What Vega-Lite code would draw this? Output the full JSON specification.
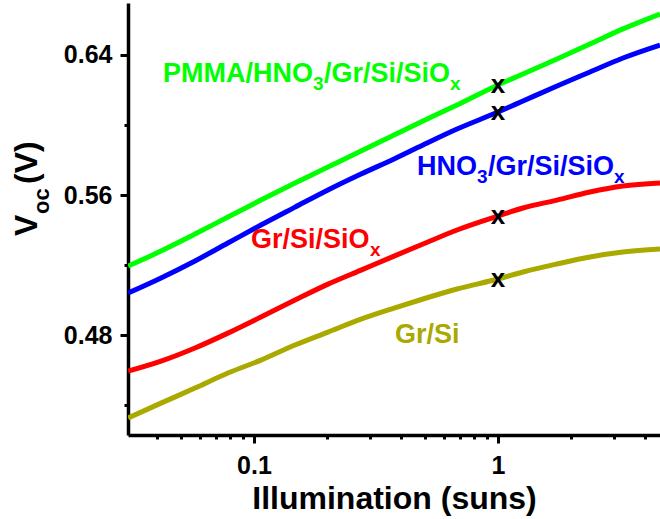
{
  "$schema": "https://vega.github.io/schema/vega-lite/v6.json",
  "width": 532,
  "height": 432,
  "autosize": {"type": "none"},
  "padding": {"left": 128, "top": 3, "right": 0, "bottom": 84},
  "background": "white",
  "config": {
    "view": {"stroke": null},
    "font": "Liberation Sans",
    "text": {"font": "Liberation Sans"},
    "axis": {"labelFont": "Liberation Sans", "titleFont": "Liberation Sans"}
  },
  "datasets": {
    "curves": [
      {"illum": 0.0305, "voc": 0.5194, "series": "PMMA/HNO3/Gr/Si/SiOx"},
      {"illum": 0.0416, "voc": 0.5280, "series": "PMMA/HNO3/Gr/Si/SiOx"},
      {"illum": 0.0573, "voc": 0.5377, "series": "PMMA/HNO3/Gr/Si/SiOx"},
      {"illum": 0.0782, "voc": 0.5474, "series": "PMMA/HNO3/Gr/Si/SiOx"},
      {"illum": 0.1068, "voc": 0.5571, "series": "PMMA/HNO3/Gr/Si/SiOx"},
      {"illum": 0.1473, "voc": 0.5669, "series": "PMMA/HNO3/Gr/Si/SiOx"},
      {"illum": 0.2011, "voc": 0.5760, "series": "PMMA/HNO3/Gr/Si/SiOx"},
      {"illum": 0.2746, "voc": 0.5851, "series": "PMMA/HNO3/Gr/Si/SiOx"},
      {"illum": 0.3750, "voc": 0.5943, "series": "PMMA/HNO3/Gr/Si/SiOx"},
      {"illum": 0.4929, "voc": 0.6023, "series": "PMMA/HNO3/Gr/Si/SiOx"},
      {"illum": 0.6794, "voc": 0.6114, "series": "PMMA/HNO3/Gr/Si/SiOx"},
      {"illum": 1.0, "voc": 0.6229, "series": "PMMA/HNO3/Gr/Si/SiOx"},
      {"illum": 1.266, "voc": 0.6291, "series": "PMMA/HNO3/Gr/Si/SiOx"},
      {"illum": 1.746, "voc": 0.6377, "series": "PMMA/HNO3/Gr/Si/SiOx"},
      {"illum": 2.383, "voc": 0.6463, "series": "PMMA/HNO3/Gr/Si/SiOx"},
      {"illum": 3.253, "voc": 0.6549, "series": "PMMA/HNO3/Gr/Si/SiOx"},
      {"illum": 4.613, "voc": 0.6634, "series": "PMMA/HNO3/Gr/Si/SiOx"},
      {"illum": 0.0305, "voc": 0.5040, "series": "HNO3/Gr/Si/SiOx"},
      {"illum": 0.0416, "voc": 0.5126, "series": "HNO3/Gr/Si/SiOx"},
      {"illum": 0.0573, "voc": 0.5223, "series": "HNO3/Gr/Si/SiOx"},
      {"illum": 0.0782, "voc": 0.5326, "series": "HNO3/Gr/Si/SiOx"},
      {"illum": 0.1068, "voc": 0.5429, "series": "HNO3/Gr/Si/SiOx"},
      {"illum": 0.1473, "voc": 0.5531, "series": "HNO3/Gr/Si/SiOx"},
      {"illum": 0.2011, "voc": 0.5629, "series": "HNO3/Gr/Si/SiOx"},
      {"illum": 0.2746, "voc": 0.5720, "series": "HNO3/Gr/Si/SiOx"},
      {"illum": 0.3750, "voc": 0.5806, "series": "HNO3/Gr/Si/SiOx"},
      {"illum": 0.4929, "voc": 0.5886, "series": "HNO3/Gr/Si/SiOx"},
      {"illum": 0.6794, "voc": 0.5977, "series": "HNO3/Gr/Si/SiOx"},
      {"illum": 1.0, "voc": 0.6074, "series": "HNO3/Gr/Si/SiOx"},
      {"illum": 1.266, "voc": 0.6137, "series": "HNO3/Gr/Si/SiOx"},
      {"illum": 1.746, "voc": 0.6223, "series": "HNO3/Gr/Si/SiOx"},
      {"illum": 2.383, "voc": 0.6303, "series": "HNO3/Gr/Si/SiOx"},
      {"illum": 3.253, "voc": 0.6383, "series": "HNO3/Gr/Si/SiOx"},
      {"illum": 4.613, "voc": 0.6457, "series": "HNO3/Gr/Si/SiOx"},
      {"illum": 0.0305, "voc": 0.4594, "series": "Gr/Si/SiOx"},
      {"illum": 0.0416, "voc": 0.4651, "series": "Gr/Si/SiOx"},
      {"illum": 0.0573, "voc": 0.4726, "series": "Gr/Si/SiOx"},
      {"illum": 0.0782, "voc": 0.4811, "series": "Gr/Si/SiOx"},
      {"illum": 0.1068, "voc": 0.4903, "series": "Gr/Si/SiOx"},
      {"illum": 0.1473, "voc": 0.5000, "series": "Gr/Si/SiOx"},
      {"illum": 0.2011, "voc": 0.5091, "series": "Gr/Si/SiOx"},
      {"illum": 0.2746, "voc": 0.5171, "series": "Gr/Si/SiOx"},
      {"illum": 0.3750, "voc": 0.5251, "series": "Gr/Si/SiOx"},
      {"illum": 0.4929, "voc": 0.5320, "series": "Gr/Si/SiOx"},
      {"illum": 0.6794, "voc": 0.5400, "series": "Gr/Si/SiOx"},
      {"illum": 1.0, "voc": 0.5480, "series": "Gr/Si/SiOx"},
      {"illum": 1.266, "voc": 0.5526, "series": "Gr/Si/SiOx"},
      {"illum": 1.746, "voc": 0.5571, "series": "Gr/Si/SiOx"},
      {"illum": 2.383, "voc": 0.5617, "series": "Gr/Si/SiOx"},
      {"illum": 3.253, "voc": 0.5651, "series": "Gr/Si/SiOx"},
      {"illum": 4.613, "voc": 0.5669, "series": "Gr/Si/SiOx"},
      {"illum": 0.0305, "voc": 0.4326, "series": "Gr/Si"},
      {"illum": 0.0416, "voc": 0.4411, "series": "Gr/Si"},
      {"illum": 0.0573, "voc": 0.4497, "series": "Gr/Si"},
      {"illum": 0.0782, "voc": 0.4583, "series": "Gr/Si"},
      {"illum": 0.1068, "voc": 0.4657, "series": "Gr/Si"},
      {"illum": 0.1473, "voc": 0.4743, "series": "Gr/Si"},
      {"illum": 0.2011, "voc": 0.4817, "series": "Gr/Si"},
      {"illum": 0.2746, "voc": 0.4891, "series": "Gr/Si"},
      {"illum": 0.3750, "voc": 0.4954, "series": "Gr/Si"},
      {"illum": 0.4929, "voc": 0.5006, "series": "Gr/Si"},
      {"illum": 0.6794, "voc": 0.5063, "series": "Gr/Si"},
      {"illum": 1.0, "voc": 0.5120, "series": "Gr/Si"},
      {"illum": 1.266, "voc": 0.5160, "series": "Gr/Si"},
      {"illum": 1.746, "voc": 0.5206, "series": "Gr/Si"},
      {"illum": 2.383, "voc": 0.5246, "series": "Gr/Si"},
      {"illum": 3.253, "voc": 0.5274, "series": "Gr/Si"},
      {"illum": 4.613, "voc": 0.5291, "series": "Gr/Si"}
    ],
    "markers": [
      {"illum": 1, "voc": 0.6229},
      {"illum": 1, "voc": 0.6074},
      {"illum": 1, "voc": 0.548},
      {"illum": 1, "voc": 0.512}
    ],
    "labels": [
      {"illum": 0.04237, "voc": 0.62457, "text": "PMMA/HNO", "series": "PMMA/HNO3/Gr/Si/SiOx", "part": "main"},
      {"illum": 0.17453, "voc": 0.6200, "text": "3", "series": "PMMA/HNO3/Gr/Si/SiOx", "part": "sub"},
      {"illum": 0.19364, "voc": 0.62457, "text": "/Gr/Si/SiO", "series": "PMMA/HNO3/Gr/Si/SiOx", "part": "main"},
      {"illum": 0.6360, "voc": 0.6200, "text": "x", "series": "PMMA/HNO3/Gr/Si/SiOx", "part": "sub"},
      {"illum": 0.4658, "voc": 0.57143, "text": "HNO", "series": "HNO3/Gr/Si/SiOx", "part": "main"},
      {"illum": 0.8204, "voc": 0.56686, "text": "3", "series": "HNO3/Gr/Si/SiOx", "part": "sub"},
      {"illum": 0.9101, "voc": 0.57143, "text": "/Gr/Si/SiO", "series": "HNO3/Gr/Si/SiOx", "part": "main"},
      {"illum": 2.9889, "voc": 0.56686, "text": "x", "series": "HNO3/Gr/Si/SiOx", "part": "sub"},
      {"illum": 0.09723, "voc": 0.52971, "text": "Gr/Si/SiO", "series": "Gr/Si/SiOx", "part": "main"},
      {"illum": 0.2988, "voc": 0.52514, "text": "x", "series": "Gr/Si/SiOx", "part": "sub"},
      {"illum": 0.3784, "voc": 0.47543, "text": "Gr/Si", "series": "Gr/Si", "part": "main"}
    ],
    "ytitle": [
      {"illum": 0.012903, "voc": 0.53657, "text": "V", "part": "main"},
      {"illum": 0.014454, "voc": 0.54914, "text": "oc", "part": "sub"},
      {"illum": 0.012903, "voc": 0.56629, "text": "(V)", "part": "main"}
    ]
  },
  "layer": [
    {
      "data": {"name": "curves"},
      "mark": {"type": "line", "strokeWidth": 5, "clip": true, "interpolate": "monotone"},
      "encoding": {
        "x": {
          "field": "illum", "type": "quantitative",
          "scale": {"type": "log", "domain": [0.03046, 4.613], "nice": false},
          "axis": {
            "values": [0.04, 0.05, 0.06, 0.07, 0.08, 0.09, 0.1, 0.2, 0.3, 0.4, 0.5, 0.6, 0.7, 0.8, 0.9, 1, 2, 3, 4],
            "labelExpr": "datum.value == 0.1 ? '0.1' : datum.value == 1 ? '1' : ''",
            "tickSize": {"condition": {"test": "datum.value == 0.1 || datum.value == 1", "value": 8}, "value": 4},
            "title": "Illumination (suns)",
            "grid": false,
            "domainColor": "black", "domainWidth": 3.5,
            "tickColor": "black", "tickWidth": 3,
            "labelFontSize": 25, "labelFontWeight": "bold", "labelColor": "black", "labelPadding": 10,
            "labelOverlap": false, "labelFlush": false, "labelBound": false,
            "titleFontSize": 32, "titleFontWeight": "bold", "titleColor": "black", "titlePadding": 5
          }
        },
        "y": {
          "field": "voc", "type": "quantitative",
          "scale": {"domain": [0.4229, 0.6697], "nice": false, "zero": false},
          "axis": {
            "values": [0.44, 0.48, 0.52, 0.56, 0.6, 0.64],
            "labelExpr": "datum.value == 0.48 || datum.value == 0.56 || datum.value == 0.64 ? format(datum.value, '.2f') : ''",
            "tickSize": {"condition": {"test": "datum.value == 0.48 || datum.value == 0.56 || datum.value == 0.64", "value": 8}, "value": 4},
            "title": null,
            "grid": false,
            "domainColor": "black", "domainWidth": 3.5,
            "tickColor": "black", "tickWidth": 3,
            "labelFontSize": 25, "labelFontWeight": "bold", "labelColor": "black", "labelPadding": 8,
            "labelOverlap": false, "labelBound": false, "labelFlush": false
          }
        },
        "color": {
          "field": "series", "type": "nominal",
          "scale": {
            "domain": ["PMMA/HNO3/Gr/Si/SiOx", "HNO3/Gr/Si/SiOx", "Gr/Si/SiOx", "Gr/Si"],
            "range": ["#00ff00", "#0000ff", "#ff0000", "#a9a900"]
          },
          "legend": null
        }
      }
    },
    {
      "mark": {"type": "rule", "color": "black", "strokeWidth": 3.5},
      "encoding": {"y": {"datum": 0.6697}}
    },
    {
      "data": {"name": "markers"},
      "mark": {"type": "text", "text": "x", "fontSize": 26, "fontWeight": "bold", "color": "black", "align": "center", "baseline": "middle"},
      "encoding": {
        "x": {"field": "illum", "type": "quantitative"},
        "y": {"field": "voc", "type": "quantitative"}
      }
    },
    {
      "data": {"name": "labels"},
      "transform": [{"filter": "datum.part == 'main'"}],
      "mark": {"type": "text", "fontSize": 27, "fontWeight": "bold", "align": "left", "baseline": "alphabetic"},
      "encoding": {
        "x": {"field": "illum", "type": "quantitative"},
        "y": {"field": "voc", "type": "quantitative"},
        "text": {"field": "text"},
        "color": {"field": "series", "type": "nominal", "legend": null}
      }
    },
    {
      "data": {"name": "labels"},
      "transform": [{"filter": "datum.part == 'sub'"}],
      "mark": {"type": "text", "fontSize": 19, "fontWeight": "bold", "align": "left", "baseline": "alphabetic"},
      "encoding": {
        "x": {"field": "illum", "type": "quantitative"},
        "y": {"field": "voc", "type": "quantitative"},
        "text": {"field": "text"},
        "color": {"field": "series", "type": "nominal", "legend": null}
      }
    },
    {
      "data": {"name": "ytitle"},
      "transform": [{"filter": "datum.part == 'main'"}],
      "mark": {"type": "text", "fontSize": 32, "fontWeight": "bold", "align": "left", "baseline": "alphabetic", "angle": 270, "color": "black"},
      "encoding": {
        "x": {"field": "illum", "type": "quantitative"},
        "y": {"field": "voc", "type": "quantitative"},
        "text": {"field": "text"}
      }
    },
    {
      "data": {"name": "ytitle"},
      "transform": [{"filter": "datum.part == 'sub'"}],
      "mark": {"type": "text", "fontSize": 22, "fontWeight": "bold", "align": "left", "baseline": "alphabetic", "angle": 270, "color": "black"},
      "encoding": {
        "x": {"field": "illum", "type": "quantitative"},
        "y": {"field": "voc", "type": "quantitative"},
        "text": {"field": "text"}
      }
    }
  ]
}
